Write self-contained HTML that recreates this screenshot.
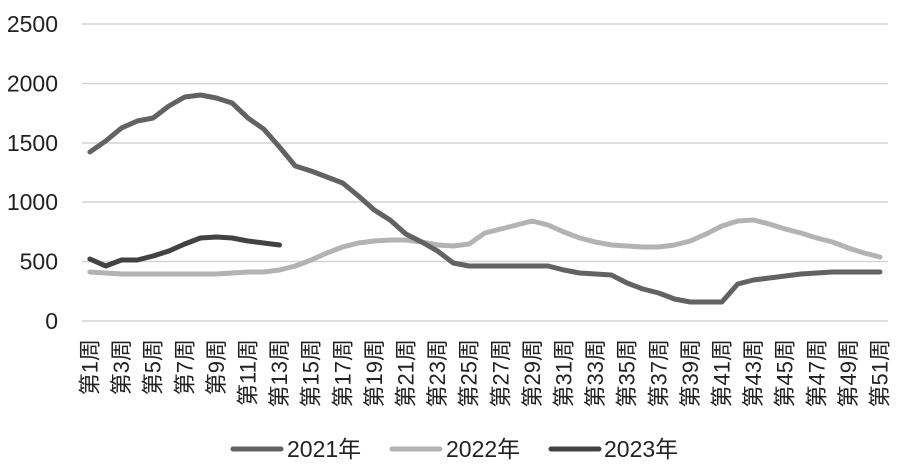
<!DOCTYPE html>
<html>
<head>
<meta charset="utf-8">
<style>
html,body{margin:0;padding:0;background:#fff;}
svg{display:block;}
text{font-family:"Liberation Sans","Noto Sans CJK SC",sans-serif;fill:#222;}
</style>
</head>
<body>
<svg width="900" height="472" viewBox="0 0 900 472" xmlns="http://www.w3.org/2000/svg">
  <!-- gridlines -->
  <g stroke="#d3d3d3" stroke-width="1.5">
    <line x1="82" y1="24" x2="888" y2="24"/>
    <line x1="82" y1="83.5" x2="888" y2="83.5"/>
    <line x1="82" y1="143" x2="888" y2="143"/>
    <line x1="82" y1="202" x2="888" y2="202"/>
    <line x1="82" y1="261.5" x2="888" y2="261.5"/>
    <line x1="82" y1="321" x2="888" y2="321"/>
  </g>
  <!-- y labels -->
  <g font-size="23" text-anchor="end">
    <text x="58" y="32">2500</text>
    <text x="58" y="91.5">2000</text>
    <text x="58" y="151">1500</text>
    <text x="58" y="210">1000</text>
    <text x="58" y="269.5">500</text>
    <text x="58" y="329">0</text>
  </g>
  <!-- series 2022 -->
  <polyline fill="none" stroke="#b3b3b3" stroke-width="5" stroke-linejoin="round" stroke-linecap="round"
    points="89.9,272 105.7,273 121.5,274 137.3,274 153.1,274 168.9,274 184.7,274 200.5,274 216.3,274 232.1,273 247.9,272 263.7,272 279.5,270 295.3,266 311.1,260 326.9,253 342.7,247 358.5,243 374.3,241 390.1,240 405.9,240 421.7,242 437.5,245 453.3,246 469.1,244 484.9,233 500.7,229 516.5,225 532.3,221 548.1,225 563.9,232 579.7,238 595.5,242 611.3,245 627.1,246 642.9,247 658.7,247 674.5,245 690.3,241 706.1,234 721.9,226 737.7,221 753.5,220 769.3,224 785.1,229 800.9,233 816.7,238 832.5,242 848.3,248 864.1,253 879.9,257"/>
  <!-- series 2021 -->
  <polyline fill="none" stroke="#626262" stroke-width="5" stroke-linejoin="round" stroke-linecap="round"
    points="89.9,152 105.7,141 121.5,128 137.3,121 153.1,118 168.9,106 184.7,97 200.5,95 216.3,98 232.1,103 247.9,118 263.7,129 279.5,147 295.3,166 311.1,171 326.9,177 342.7,183 358.5,196 374.3,210 390.1,220 405.9,234 421.7,242 437.5,251 453.3,263 469.1,266 484.9,266 500.7,266 516.5,266 532.3,266 548.1,266 563.9,270 579.7,273 595.5,274 611.3,275 627.1,283 642.9,289 658.7,293 674.5,299 690.3,302 706.1,302 721.9,302 737.7,284 753.5,280 769.3,278 785.1,276 800.9,274 816.7,273 832.5,272 848.3,272 864.1,272 879.9,272"/>
  <!-- series 2023 -->
  <polyline fill="none" stroke="#424242" stroke-width="5" stroke-linejoin="round" stroke-linecap="round"
    points="89.9,259 105.7,266 121.5,260 137.3,260 153.1,256 168.9,251 184.7,244 200.5,238 216.3,237 232.1,238 247.9,241 263.7,243 279.5,245"/>
  <!-- x labels -->
  <g font-size="22" text-anchor="end" dominant-baseline="central">
    <text transform="translate(90,339) rotate(-90)">第1周</text>
    <text transform="translate(121.6,339) rotate(-90)">第3周</text>
    <text transform="translate(153.2,339) rotate(-90)">第5周</text>
    <text transform="translate(184.8,339) rotate(-90)">第7周</text>
    <text transform="translate(216.4,339) rotate(-90)">第9周</text>
    <text transform="translate(248,339) rotate(-90)">第11周</text>
    <text transform="translate(279.6,339) rotate(-90)">第13周</text>
    <text transform="translate(311.2,339) rotate(-90)">第15周</text>
    <text transform="translate(342.8,339) rotate(-90)">第17周</text>
    <text transform="translate(374.4,339) rotate(-90)">第19周</text>
    <text transform="translate(406,339) rotate(-90)">第21周</text>
    <text transform="translate(437.6,339) rotate(-90)">第23周</text>
    <text transform="translate(469.2,339) rotate(-90)">第25周</text>
    <text transform="translate(500.8,339) rotate(-90)">第27周</text>
    <text transform="translate(532.4,339) rotate(-90)">第29周</text>
    <text transform="translate(564,339) rotate(-90)">第31周</text>
    <text transform="translate(595.6,339) rotate(-90)">第33周</text>
    <text transform="translate(627.2,339) rotate(-90)">第35周</text>
    <text transform="translate(658.8,339) rotate(-90)">第37周</text>
    <text transform="translate(690.4,339) rotate(-90)">第39周</text>
    <text transform="translate(722,339) rotate(-90)">第41周</text>
    <text transform="translate(753.6,339) rotate(-90)">第43周</text>
    <text transform="translate(785.2,339) rotate(-90)">第45周</text>
    <text transform="translate(816.8,339) rotate(-90)">第47周</text>
    <text transform="translate(848.4,339) rotate(-90)">第49周</text>
    <text transform="translate(880,339) rotate(-90)">第51周</text>
  </g>
  <!-- legend -->
  <g stroke-width="5" stroke-linecap="round">
    <line x1="233" y1="449" x2="281" y2="449" stroke="#626262"/>
    <line x1="392" y1="449" x2="440" y2="449" stroke="#b3b3b3"/>
    <line x1="551" y1="449" x2="599" y2="449" stroke="#424242"/>
  </g>
  <g font-size="23">
    <text x="287" y="457">2021年</text>
    <text x="446" y="457">2022年</text>
    <text x="604" y="457">2023年</text>
  </g>
</svg>
</body>
</html>
